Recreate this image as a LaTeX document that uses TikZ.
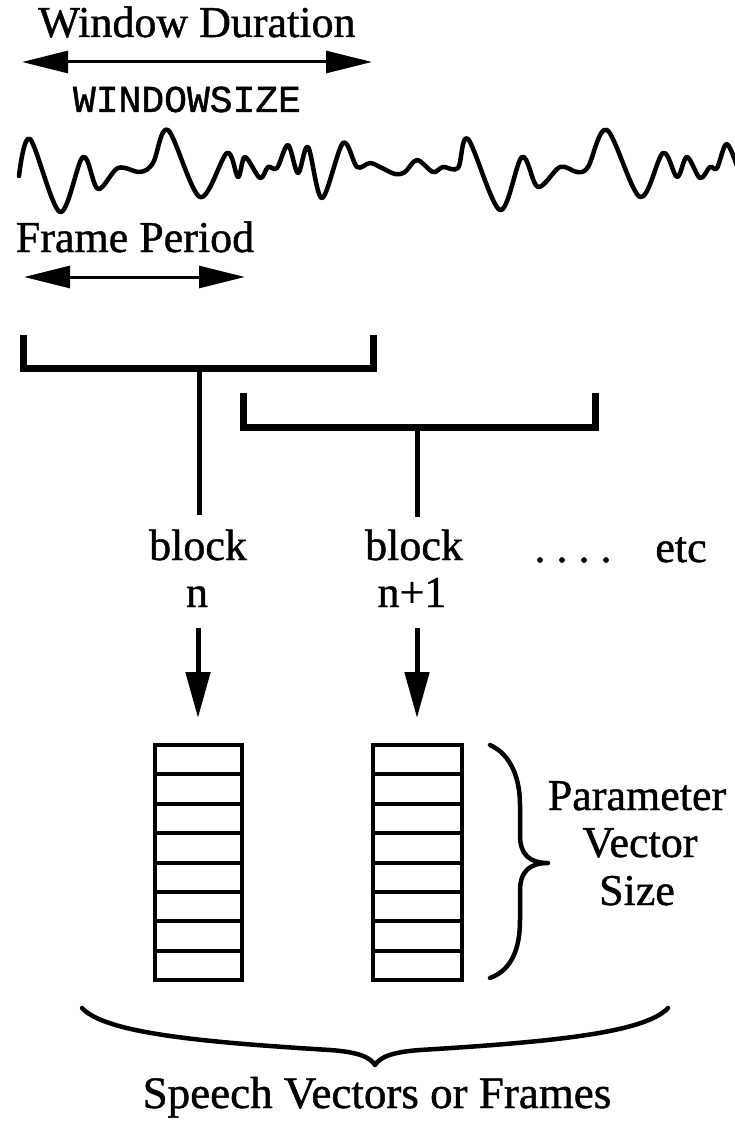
\documentclass[tikz,border=0pt]{standalone}
\usepackage{fontspec}
\setmainfont{Liberation Serif}[FakeBold=1]
\newfontfamily\wsmono{Liberation Mono}[FakeBold=1.2]
\usetikzlibrary{arrows.meta}
\tikzset{
  txt/.style={font=\fontsize{44}{48}\selectfont, inner sep=0pt, anchor=base},
  mono/.style={font=\wsmono\fontsize{38}{40}\selectfont, inner sep=0pt, anchor=base},
  dblarrow/.style={line width=3pt, {Triangle[length=46pt,width=22pt]}-{Triangle[length=46pt,width=22pt]}},
  downarrow/.style={line width=5pt, -{Triangle[length=46pt,width=24pt]}},
  bracket/.style={line width=7pt, line join=miter},
  stem/.style={line width=5pt},
  wave/.style={line width=4.5pt, line join=round, line cap=round},
  vecbox/.style={line width=4pt},
  curlybrace/.style={line width=4.5pt, line join=round, line cap=round},
}
\begin{document}
\begin{tikzpicture}[x=1pt,y=-1pt]
\useasboundingbox (0,0) rectangle (735,1123);
\fill[white] (0,0) rectangle (735,1123);

% top: window duration
\node[txt] (wd) at (197,37) {Window Duration};
\coordinate (wdl) at (22,62);
\coordinate (wdr) at (372,62);
\draw[dblarrow] (wdl) -- (wdr);
\node[mono] (ws) at (187,112) {WINDOWSIZE};

% waveform
\begin{scope}
\clip (0,0) rectangle (735,1123);
\draw[wave] plot[smooth, tension=0.55] coordinates {
 (19,176) (30,139) (60,212) (83,157) (98,189) (118,168) (140,172) (153,163)
 (168,130) (200,197) (227,153) (238,177) (245,157) (260,178) (268,167) (277,168)
 (288,145) (298,173) (308,147) (322,198) (343,143) (357,167) (370,163) (382,168)
 (395,174) (405,172) (417,160) (433,172) (443,167) (458,168)
 (468,139) (500,210) (522,157) (538,187) (560,167) (577,172) (588,167)
 (607,130) (640,197) (663,153) (677,177) (687,157) (700,178) (710,167) (717,168)
 (727,144) (740,175)};
\end{scope}

% frame period
\node[txt] (fp) at (135,252) {Frame Period};
\coordinate (fpl) at (24,277);
\coordinate (fpr) at (245,277);
\draw[dblarrow] (fpl) -- (fpr);

% brackets
\coordinate (b1a) at (23,335);
\coordinate (b1b) at (23,368);
\coordinate (b1c) at (373,368);
\coordinate (b1d) at (373,335);
\draw[bracket] (b1a) -- (b1b) -- (b1c) -- (b1d);
\coordinate (b2a) at (243,393);
\coordinate (b2b) at (243,427);
\coordinate (b2c) at (595,427);
\coordinate (b2d) at (595,393);
\draw[bracket] (b2a) -- (b2b) -- (b2c) -- (b2d);

% stems
\coordinate (s1a) at (199,368);
\coordinate (s1b) at (199,515);
\draw[stem] (s1a) -- (s1b);
\coordinate (s2a) at (417,427);
\coordinate (s2b) at (417,517);
\draw[stem] (s2a) -- (s2b);

% block labels
\node[txt] (bn1) at (198,560) {block};
\node[txt] (bn2) at (197,607) {n};
\node[txt] (bm1) at (414,560) {block};
\node[txt] (bm2) at (412,607) {n+1};
\node[txt] (dots) at (573,562) {.\hspace{11pt}.\hspace{11pt}.\hspace{11pt}.};
\node[txt] (etc) at (681,562) {etc};

% down arrows
\coordinate (a1s) at (198,628);
\coordinate (a1e) at (198,718);
\draw[downarrow] (a1s) -- (a1e);
\coordinate (a2s) at (417,628);
\coordinate (a2e) at (417,718);
\draw[downarrow] (a2s) -- (a2e);

% vectors
\foreach \l/\r in {155/242, 373/462} {
  \draw[vecbox] (\l,745) rectangle (\r,980);
  \foreach \i in {1,...,7}
    \draw[vecbox] (\l,{745+\i*29.375}) -- (\r,{745+\i*29.375});
}

% right brace
\draw[curlybrace] (490,745) .. controls (512,755) and (520,780) .. (520,805)
  -- (520,835) .. controls (520,855) and (530,863) .. (548,863)
  .. controls (530,863) and (520,871) .. (520,891)
  -- (520,920) .. controls (520,948) and (512,970) .. (490,978);
\node[txt] (pv1) at (637,810) {Parameter};
\node[txt] (pv2) at (640,857) {Vector};
\node[txt] (pv3) at (637,905) {Size};

% bottom brace
\draw[curlybrace] (82,1008) .. controls (105,1033) and (200,1042) .. (330,1050)
  .. controls (358,1052) and (370,1057) .. (375,1065)
  .. controls (380,1057) and (392,1052) .. (420,1050)
  .. controls (550,1042) and (645,1033) .. (668,1008);
\node[txt, font=\fontsize{45}{48}\selectfont] (sv) at (377,1108) {Speech Vectors or Frames};
\end{tikzpicture}
\end{document}
